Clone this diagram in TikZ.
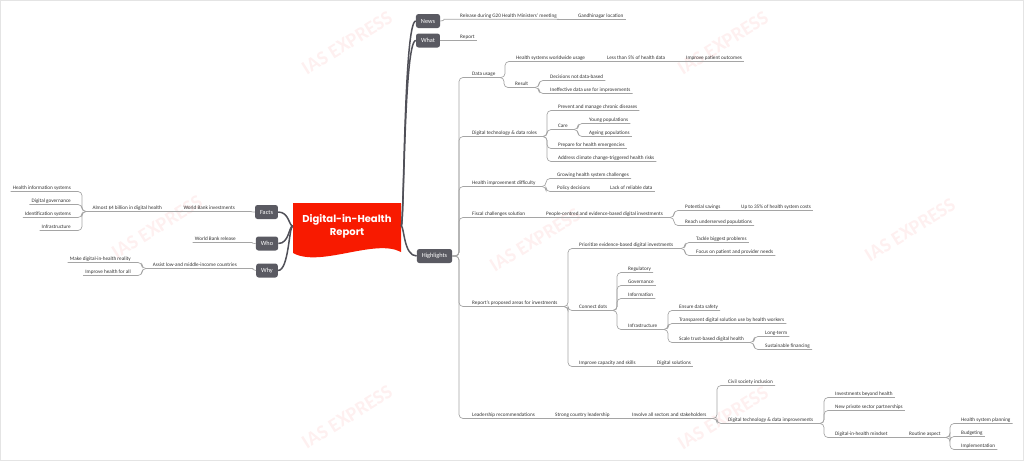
\documentclass[tikz,border=0pt]{standalone}
\usepackage{fontspec}
\setmainfont{Carlito}
\newfontfamily\titlefont{Poppins}
\definecolor{textc}{RGB}{51,51,51}
\definecolor{linec}{RGB}{165,165,165}
\definecolor{trunkc}{RGB}{80,80,88}
\definecolor{boxc}{RGB}{90,90,98}
\definecolor{rootred}{RGB}{248,26,0}
\definecolor{wmc}{RGB}{254,240,240}
\definecolor{framec}{RGB}{228,228,228}
\tikzset{
  txt/.style={font=\fontsize{5.2}{6}\selectfont, text=textc, inner xsep=0pt, inner ysep=0pt, text height=3.6pt, text depth=1.8pt},
  rt/.style={txt, anchor=south west},
  lt/.style={txt, anchor=south east},
  box/.style={fill=boxc, rounded corners=2.5pt, text=white, font=\fontsize{6.3}{7}\selectfont, minimum height=14pt, inner xsep=5pt, inner ysep=0pt},
  link/.style={draw=linec, line width=0.7pt, rounded corners=4pt},
  trunk/.style={draw=trunkc, line width=1.5pt},
  wm/.style={font=\fontsize{20}{20}\selectfont\bfseries, text=wmc, rotate=32}
}
\newcommand\rlink[2]{\draw[link] (#1.south east) -| ([xshift=-11pt]#2.south west) -- ([xshift=2pt]#2.south east);}
\newcommand\rstr[2]{\draw[link] (#1.south east) -- ([xshift=2pt]#2.south east);}
\newcommand\hlink[1]{\draw[link] (hl.east) -| ([xshift=-13pt]#1.south west) -- ([xshift=2pt]#1.south east);}
\newcommand\llink[2]{\draw[link] (#1.south west) -| ([xshift=11pt]#2.south east) -- ([xshift=-2pt]#2.south west);}
\begin{document}
\begin{tikzpicture}[x=1pt, y=-1pt]
\useasboundingbox (0,0) rectangle (1024,461);
\draw[framec, line width=1pt] (0.5,0.5) rectangle (1023.5,460.5);
% watermarks
\foreach \p [count=\i] in {(347,43),(723,43),(347,417),(723,418),(157,227),(535,240),(910,230)}
  \node[wm] (wm\i) at \p {IAS EXPRESS};
% root
\fill[rootred] (293,203) -- (401,203) -- (401,252) .. controls (375,238) and (320,268) .. (293,253) -- cycle;
\node[minimum width=108pt, minimum height=46pt, inner sep=0pt, align=center, text=white,
      font=\titlefont\bfseries\fontsize{10}{13}\selectfont] (root) at (347,226) {Digital-in-Health\\Report};
% boxes
\node[box] (news) at (428,21) {News};
\node[box] (what) at (428,40.5) {What};
\node[box] (hl) at (434.5,256) {Highlights};
\node[box] (facts) at (266.5,212) {Facts};
\node[box] (who) at (267,243.5) {Who};
\node[box] (why) at (267,270.5) {Why};
% trunk connectors
\draw[trunk] (root.east) .. controls +(3,0) and +(-12,0) .. (news.west);
\draw[trunk] (root.east) .. controls +(3,0) and +(-12,0) .. (what.west);
\draw[trunk] (root.east) .. controls +(3,0) and +(-13,0) .. (hl.west);
\draw[trunk] (root.west) .. controls +(-4,0) and +(11,0) .. (facts.east);
\draw[trunk] (root.west) .. controls +(-4,0) and +(11,0) .. (who.east);
\draw[trunk] (root.west) .. controls +(-4,0) and +(11,0) .. (why.east);
% right texts
\node[rt] (n1) at (460,19.2) {Release during G20 Health Ministers' meeting};
\node[rt] (n2) at (578,19.2) {Gandhinagar location};
\node[rt] (w1) at (460,40.5) {Report};
\node[rt] (h1) at (472,77.5) {Data usage};
\node[rt] (h11) at (516,61.5) {Health systems worldwide usage};
\node[rt] (h111) at (607,61.5) {Less than 5\% of health data};
\node[rt] (h1111) at (686,61.5) {Improve patient outcomes};
\node[rt] (h12) at (515,87.5) {Result};
\node[rt] (h121) at (550,80.5) {Decisions not data-based};
\node[rt] (h122) at (550,93.5) {Ineffective data use for improvements};
\node[rt] (h2) at (472,136.5) {Digital technology \& data roles};
\node[rt] (h21) at (558,110.5) {Prevent and manage chronic diseases};
\node[rt] (h22) at (558,129.5) {Care};
\node[rt] (h221) at (589,123.5) {Young populations};
\node[rt] (h222) at (589,136.5) {Ageing populations};
\node[rt] (h23) at (558,148.5) {Prepare for health emergencies};
\node[rt] (h24) at (558,161.5) {Address climate change-triggered health risks};
\node[rt] (h3) at (472,186.5) {Health improvement difficulty};
\node[rt] (h31) at (557,178.5) {Growing health system challenges};
\node[rt] (h32) at (557,191.5) {Policy decisions};
\node[rt] (h321) at (610,191.5) {Lack of reliable data};
\node[rt] (h4) at (472,217.5) {Fiscal challenges solution};
\node[rt] (h41) at (546,217.5) {People-centred and evidence-based digital investments};
\node[rt] (h411) at (685,210.5) {Potential savings};
\node[rt] (h4111) at (741,210.5) {Up to 35\% of health system costs};
\node[rt] (h412) at (685,225.5) {Reach underserved populations};
\node[rt] (h5) at (472,306.5) {Report's proposed areas for investments};
\node[rt] (h51) at (579,248.5) {Prioritize evidence-based digital investments};
\node[rt] (h511) at (696,242.5) {Tackle biggest problems};
\node[rt] (h512) at (696,255.5) {Focus on patient and provider needs};
\node[rt] (h52) at (579,310.5) {Connect dots};
\node[rt] (h521) at (628,272.5) {Regulatory};
\node[rt] (h522) at (628,285.5) {Governance};
\node[rt] (h523) at (628,298.5) {Information};
\node[rt] (h524) at (628,329.5) {Infrastructure};
\node[rt] (h5241) at (679,310.5) {Ensure data safety};
\node[rt] (h5242) at (679,323.5) {Transparent digital solution use by health workers};
\node[rt] (h5243) at (679,342.5) {Scale trust-based digital health};
\node[rt] (h52431) at (765,336.5) {Long-term};
\node[rt] (h52432) at (765,349.5) {Sustainable financing};
\node[rt] (h53) at (579,366.5) {Improve capacity and skills};
\node[rt] (h531) at (657,366.5) {Digital solutions};
\node[rt] (h6) at (472,418.5) {Leadership recommendations};
\node[rt] (h61) at (555,418.5) {Strong country leadership};
\node[rt] (h611) at (632,418.5) {Involve all sectors and stakeholders};
\node[rt] (h6111) at (728,385.5) {Civil society inclusion};
\node[rt] (h6112) at (728,423.5) {Digital technology \& data improvements};
\node[rt] (h61121) at (835,397.5) {Investments beyond health};
\node[rt] (h61122) at (835,410.5) {New private sector partnerships};
\node[rt] (h61123) at (835,437.5) {Digital-in-health mindset};
\node[rt] (h611231) at (909,437.5) {Routine aspect};
\node[rt] (h6112311) at (961,423.5) {Health system planning};
\node[rt] (h6112312) at (961,436.5) {Budgeting};
\node[rt] (h6112313) at (961,449.5) {Implementation};
% left texts
\node[lt] (f1) at (235,211.5) {World Bank investments};
\node[lt] (f11) at (162,211.5) {Almost \$4 billion in digital health};
\node[lt] (f111) at (71,191.5) {Health information systems};
\node[lt] (f112) at (71,204.5) {Digital governance};
\node[lt] (f113) at (71,217.5) {Identification systems};
\node[lt] (f114) at (71,230.5) {Infrastructure};
\node[lt] (o1) at (236,242.5) {World Bank release};
\node[lt] (y1) at (237,268.5) {Assist low-and middle-income countries};
\node[lt] (y11) at (131,262.5) {Make digital-in-health reality};
\node[lt] (y12) at (131,275.5) {Improve health for all};
% box links
\draw[link] (news.east) to[out=0,in=180] ([xshift=-12pt]n1.south west) -- ([xshift=2pt]n1.south east);
\draw[link] (what.east) -- ([xshift=2pt]w1.south east);
\draw[link] (facts.west) to[out=180,in=0] ([xshift=12pt]f1.south east) -- ([xshift=-2pt]f1.south west);
\draw[link] (who.west) to[out=180,in=0] ([xshift=12pt]o1.south east) -- ([xshift=-2pt]o1.south west);
\draw[link] (why.west) to[out=180,in=0] ([xshift=12pt]y1.south east) -- ([xshift=-2pt]y1.south west);
\hlink{h1} \hlink{h2} \hlink{h3} \hlink{h4} \hlink{h5} \hlink{h6}
% right links
\rstr{n1}{n2}
\rlink{h1}{h11} \rstr{h11}{h111} \rstr{h111}{h1111}
\rlink{h1}{h12} \rlink{h12}{h121} \rlink{h12}{h122}
\rlink{h2}{h21} \rlink{h2}{h22} \rlink{h22}{h221} \rlink{h22}{h222} \rlink{h2}{h23} \rlink{h2}{h24}
\rlink{h3}{h31} \rlink{h3}{h32} \rstr{h32}{h321}
\rstr{h4}{h41} \rlink{h41}{h411} \rstr{h411}{h4111} \rlink{h41}{h412}
\rlink{h5}{h51} \rlink{h51}{h511} \rlink{h51}{h512}
\rlink{h5}{h52} \rlink{h52}{h521} \rlink{h52}{h522} \rlink{h52}{h523} \rlink{h52}{h524}
\rlink{h524}{h5241} \rlink{h524}{h5242} \rlink{h524}{h5243} \rlink{h5243}{h52431} \rlink{h5243}{h52432}
\rlink{h5}{h53} \rstr{h53}{h531}
\rstr{h6}{h61} \rstr{h61}{h611} \rlink{h611}{h6111} \rlink{h611}{h6112}
\rlink{h6112}{h61121} \rlink{h6112}{h61122} \rlink{h6112}{h61123} \rstr{h61123}{h611231}
\rlink{h611231}{h6112311} \rlink{h611231}{h6112312} \rlink{h611231}{h6112313}
% left links
\draw[link] (f1.south west) -- ([xshift=-2pt]f11.south west);
\llink{f11}{f111} \llink{f11}{f112} \llink{f11}{f113} \llink{f11}{f114}
\llink{y1}{y11} \llink{y1}{y12}
\end{tikzpicture}
\end{document}
